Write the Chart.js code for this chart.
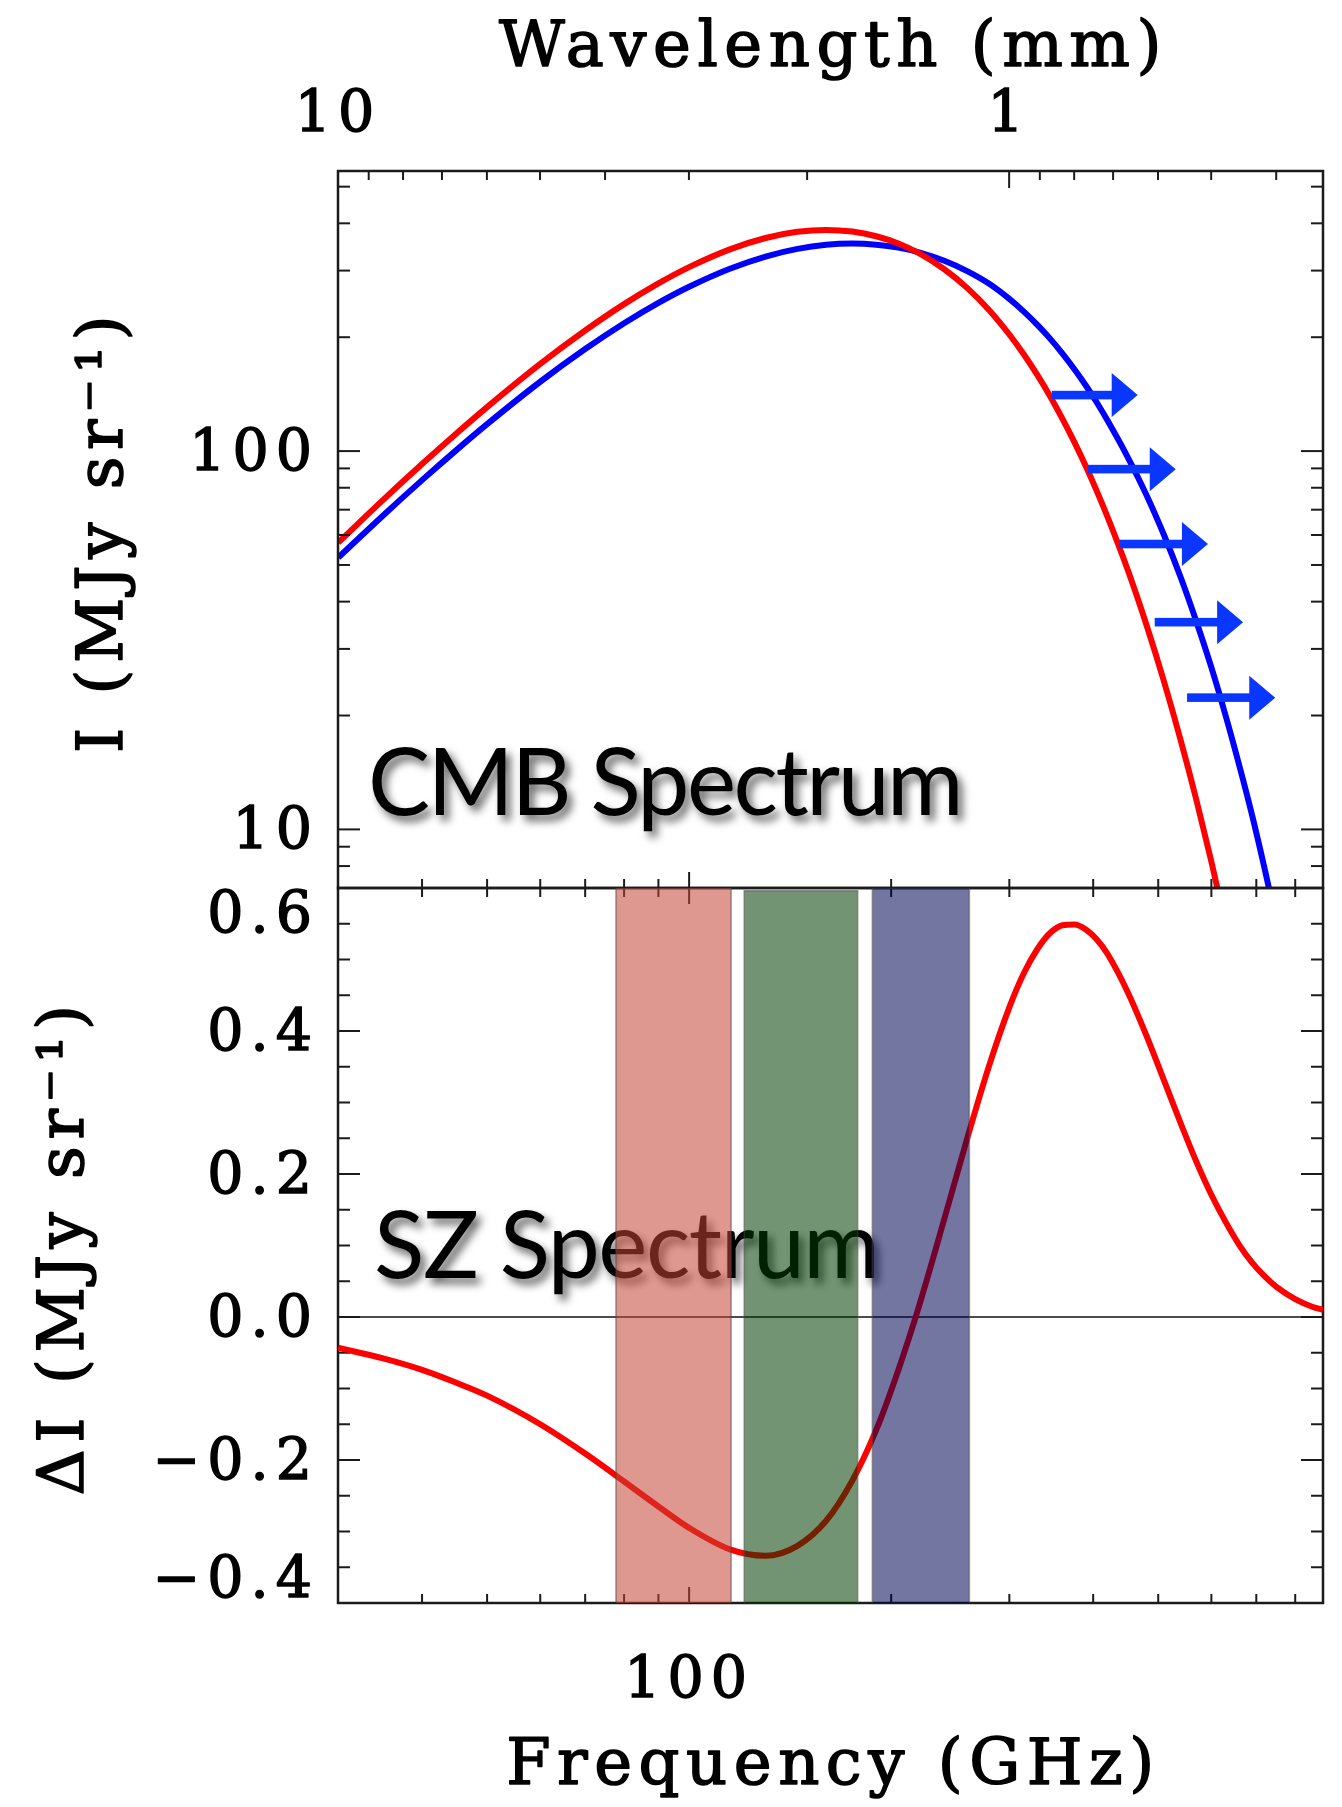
<!DOCTYPE html>
<html>
<head>
<meta charset="utf-8">
<style>
  html, body { margin: 0; padding: 0; background: #ffffff; }
  #wrap { position: relative; width: 1342px; height: 1807px; overflow: hidden; }
  #wrap canvas { position: absolute; left: 0; top: 0; }
</style>
<script src="https://cdn.jsdelivr.net/npm/chart.js@4.4.1/dist/chart.umd.min.js"></script>
</head>
<body>
<div id="wrap">
  <canvas id="cmbChart" width="1342" height="1807" style="width:1342px;height:1807px"></canvas>
  <canvas id="szChart" width="1342" height="1807" style="width:1342px;height:1807px"></canvas>
</div>
<script>
// ---------------- data ----------------
const freqGHz = [30, 35, 40, 45, 50, 60, 70, 80, 90, 100,
                 115, 130, 145, 160, 175, 190, 205, 220, 240, 260,
                 280, 300, 315, 330, 345, 360, 375, 390, 405, 420,
                 450, 480, 510, 540, 570, 600, 630, 660, 690, 720,
                 750, 800, 850, 880];
// red: CMB intensity (MJy/sr)
const cmbIntensity = [57.3, 74.3, 92.4, 111.3, 130.7, 170.0, 208.3, 244.6, 277.5, 306.4,
                      341.4, 365.8, 379.8, 384.3, 380.4, 369.7, 353.7, 333.5, 302.4, 269.2,
                      235.7, 203.3, 180.5, 159.2, 139.7, 121.7, 105.6, 91.2, 78.4, 67.1,
                      48.7, 34.8, 24.6, 17.2, 11.95, 8.22, 5.61, 3.80, 2.56, 1.72,
                      1.14, 0.58, 0.29, 0.19];
// blue: distorted (scattered) CMB intensity (MJy/sr)
const distortedIntensity = [52.3, 67.6, 83.8, 100.6, 117.8, 152.5, 186.1, 217.8, 246.6, 272.0,
                            303.5, 326.8, 342.4, 351.1, 353.7, 351.3, 345.0, 335.3, 318.4, 298.6,
                            276.8, 252.5, 234.1, 215.9, 198.3, 181.0, 164.6, 149.1, 134.4, 120.6,
                            96.6, 76.7, 60.0, 46.4, 35.4, 26.8, 20.0, 14.8, 10.9, 7.9,
                            5.7, 3.3, 1.8, 1.3];
// red: SZ spectrum Delta I (MJy/sr)
const szDeltaI = [-0.043, -0.058, -0.074, -0.092, -0.110, -0.150, -0.191, -0.230, -0.265, -0.295,
                  -0.325, -0.334, -0.320, -0.285, -0.229, -0.158, -0.074, 0.015, 0.137, 0.252,
                  0.352, 0.433, 0.480, 0.514, 0.537, 0.548, 0.549, 0.542, 0.528, 0.508,
                  0.455, 0.394, 0.331, 0.271, 0.217, 0.171, 0.133, 0.101, 0.076, 0.057,
                  0.042, 0.025, 0.014, 0.010];
// observing bands (GHz)
const bandLowGHz  = [77.8, 120.8, 187.5];
const bandHighGHz = [115.5, 178.3, 261.6];
const bandTop     = [0.6, 0.596, 0.6];
const bandColors  = ['rgba(195,67,53,0.55)', 'rgba(0,60,0,0.55)', 'rgba(0,5,82,0.55)'];
// arrows (start freq, end freq, intensity level)
const arrowStartGHz = [347, 393, 438, 494, 552];
const arrowEndGHz   = [466, 531, 593, 669, 747];
const arrowLevel    = [140.6, 89.6, 56.8, 35.3, 22.3];
// axes
const freqMin = 29.979, freqMax = 880;
const mmGHz = 299.792458;             // wavelength(mm) = mmGHz / freq(GHz)
const freqTicks = [40, 50, 60, 70, 80, 90, 100, 200, 300, 400, 500, 600, 700, 800];
const freqLabelTicks = [100];
const wavelengthTicks = [10, 9, 8, 7, 6, 5, 4, 3, 2, 1, 0.9, 0.8, 0.7, 0.6, 0.5, 0.4];
const wavelengthLabelTicks = [10, 1];
const intensityMin = 7, intensityMax = 550;
const intensityTicks = [8, 9, 10, 20, 30, 40, 50, 60, 70, 80, 90, 100, 200, 300, 400, 500];
const intensityLabelTicks = [10, 100];
const deltaIMin = -0.4, deltaIMax = 0.6;
const deltaITicks = [-0.4, -0.35, -0.3, -0.25, -0.2, -0.15, -0.1, -0.05, 0, 0.05, 0.1, 0.15,
                     0.2, 0.25, 0.3, 0.35, 0.4, 0.45, 0.5, 0.55, 0.6];
const deltaILabelTicks = [-0.4, -0.2, 0, 0.2, 0.4, 0.6];
const titles = {
  wavelength: 'Wavelength (mm)',
  frequency: 'Frequency (GHz)',
  intensity: 'I (MJy sr\u207B\u00B9)',
  deltaI: '\u0394I (MJy sr\u207B\u00B9)',
  cmb: 'CMB Spectrum',
  sz: 'SZ Spectrum'
};

// ---------------- helpers ----------------
const SERIF = "'DejaVu Serif', serif";
const TICK_FONT = { family: SERIF, size: 57 };
const TICK_SPACING = '7px';
const TITLE_CSS = "64px 'DejaVu Serif', serif";
const TITLE_SPACING = '6.5px';
const TEXT_STROKE = 1.5;
const AXIS_COLOR = '#1b1b1b';
const near = (list, v) => list.some(m => Math.abs(m - v) < 1e-9 * Math.max(1, Math.abs(m)));
const setTicks = list => axis => { axis.ticks = list.map(v => ({ value: v })); };
const fixSize = (w, h) => axis => {
  if (w !== null) axis.width = w;
  if (h !== null) axis.height = h;
  axis.paddingLeft = 0; axis.paddingRight = 0; axis.paddingTop = 0; axis.paddingBottom = 0;
};
const fmtDelta = v => (v < 0 ? '\u2212' : '') + Math.abs(v).toFixed(1);
// wavelength ticks expressed on the frequency scale
const wavelengthTicksAsFreq = wavelengthTicks.map(l => mmGHz / l);
const wavelengthLabelsAsFreq = wavelengthLabelTicks.map(l => mmGHz / l);

function tickMarks(ctx, scale, edge, dir, horizontal, majors, majLen, minLen, a) {
  scale.ticks.forEach(t => {
    const p = scale.getPixelForValue(t.value);
    const len = near(majors, t.value) ? majLen : minLen;
    ctx.beginPath();
    if (horizontal) {
      if (p < a.left - 1 || p > a.right + 1) return;
      ctx.moveTo(p, edge); ctx.lineTo(p, edge + dir * len);
    } else {
      if (p < a.top - 1 || p > a.bottom + 1) return;
      ctx.moveTo(edge, p); ctx.lineTo(edge + dir * len, p);
    }
    ctx.stroke();
  });
}
function serifText(ctx, text, x, y, rotate, font, spacing, align) {
  ctx.save();
  ctx.translate(x, y);
  if (rotate) ctx.rotate(-Math.PI / 2);
  ctx.font = font;
  ctx.letterSpacing = spacing;
  ctx.textAlign = align || 'center';
  ctx.textBaseline = 'middle';
  ctx.fillStyle = '#000';
  ctx.strokeStyle = '#000';
  ctx.lineWidth = TEXT_STROKE;
  ctx.lineJoin = 'round';
  ctx.strokeText(text, 0, 0);
  ctx.fillText(text, 0, 0);
  ctx.restore();
}
function shadowText(ctx, text, x, y, spacing) {
  ctx.save();
  ctx.letterSpacing = spacing;
  ctx.font = "400 93px Lato, 'Open Sans', sans-serif";
  ctx.textAlign = 'left';
  ctx.textBaseline = 'alphabetic';
  ctx.shadowColor = 'rgba(0,0,0,0.6)';
  ctx.shadowBlur = 8;
  ctx.shadowOffsetX = 5;
  ctx.shadowOffsetY = 6;
  ctx.fillStyle = '#000';
  ctx.fillText(text, x, y);
  ctx.restore();
}

const commonOpts = {
  responsive: false,
  animation: false,
  devicePixelRatio: 1,
  events: [],
  plugins: { legend: { display: false }, tooltip: { enabled: false }, title: { display: false } },
  elements: { point: { radius: 0 } }
};
const tickStyle = { font: TICK_FONT, color: '#000', textStrokeColor: '#000', textStrokeWidth: TEXT_STROKE,
                    autoSkip: false, maxRotation: 0, minRotation: 0 };

// ---------------- top chart: CMB spectrum ----------------
const cmbDecor = {
  id: 'cmbDecor',
  beforeDraw(chart) { chart.ctx.letterSpacing = TICK_SPACING; },
  afterDatasetsDraw(chart) {
    const { ctx, chartArea: a, scales } = chart;
    ctx.save();
    // arrows
    ctx.fillStyle = '#0a37ff';
    for (let i = 0; i < arrowLevel.length; i++) {
      const y = scales.y.getPixelForValue(arrowLevel[i]);
      const x0 = scales.x.getPixelForValue(arrowStartGHz[i]);
      const x1 = scales.x.getPixelForValue(arrowEndGHz[i]);
      const headLen = 26, headHalf = 22, shaft = 4.3;
      ctx.fillRect(x0, y - shaft, (x1 - headLen) - x0 + 1, 2 * shaft);
      ctx.beginPath();
      ctx.moveTo(x1, y);
      ctx.lineTo(x1 - headLen, y - headHalf);
      ctx.lineTo(x1 - headLen, y + headHalf);
      ctx.closePath();
      ctx.fill();
    }
    // frame and ticks
    ctx.strokeStyle = AXIS_COLOR;
    ctx.lineWidth = 2;
    tickMarks(ctx, scales.xw, a.top, 1, true, wavelengthLabelsAsFreq, 17, 9, a);
    tickMarks(ctx, scales.x, a.bottom, -1, true, freqLabelTicks, 16, 9, a);
    tickMarks(ctx, scales.y, a.left, 1, false, intensityLabelTicks, 22, 12, a);
    tickMarks(ctx, scales.y, a.right, -1, false, intensityLabelTicks, 22, 12, a);
    ctx.lineWidth = 2.5;
    ctx.strokeRect(a.left, a.top, a.right - a.left, a.bottom - a.top);
    ctx.restore();
    // axis titles and panel label
    serifText(ctx, titles.wavelength, (a.left + a.right) / 2 + 3, 49, false, TITLE_CSS, TITLE_SPACING);
    serifText(ctx, titles.intensity, 105, 531, true, TITLE_CSS, TITLE_SPACING);
    shadowText(ctx, titles.cmb, a.left + 30, a.top + 644, '-2.5px');
  }
};

new Chart(document.getElementById('cmbChart'), {
  type: 'line',
  data: {
    datasets: [
      { label: 'CMB', xAxisID: 'x', yAxisID: 'y',
        data: freqGHz.map((f, i) => ({ x: f, y: cmbIntensity[i] })),
        borderColor: '#ff0000', borderWidth: 6, pointRadius: 0, fill: false,
        cubicInterpolationMode: 'monotone' },
      { label: 'Distorted CMB', xAxisID: 'x', yAxisID: 'y',
        data: freqGHz.map((f, i) => ({ x: f, y: distortedIntensity[i] })),
        borderColor: '#0000ff', borderWidth: 6, pointRadius: 0, fill: false,
        cubicInterpolationMode: 'monotone' }
    ]
  },
  options: Object.assign({}, commonOpts, {
    layout: { padding: { left: 0, top: 0, right: 19, bottom: 0 } },
    scales: {
      x: { type: 'logarithmic', position: 'bottom', min: freqMin, max: freqMax,
           ticks: { display: false }, grid: { display: false, drawTicks: false },
           border: { display: false },
           afterBuildTicks: setTicks(freqTicks), afterFit: fixSize(null, 919) },
      xw: { type: 'logarithmic', position: 'top', min: freqMin, max: freqMax,
            ticks: Object.assign({}, tickStyle, { display: true, padding: 21,
                     callback: v => {
                       const lam = Math.round(mmGHz / v * 10) / 10;
                       return near(wavelengthLabelTicks, lam) ? String(lam) : '';
                     } }),
            grid: { display: false, drawTicks: false }, border: { display: false },
            title: { display: false },
            afterBuildTicks: setTicks(wavelengthTicksAsFreq), afterFit: fixSize(null, 171) },
      y: { type: 'logarithmic', position: 'left', min: intensityMin, max: intensityMax,
           ticks: Object.assign({}, tickStyle, { display: true, padding: 19, labelOffset: 4,
                    callback: v => near(intensityLabelTicks, v) ? String(v) : '' }),
           grid: { display: false, drawTicks: false }, border: { display: false },
           title: { display: false },
           afterBuildTicks: setTicks(intensityTicks), afterFit: fixSize(338, null) }
    }
  }),
  plugins: [cmbDecor]
});

// ---------------- bottom chart: SZ spectrum ----------------
const szDecor = {
  id: 'szDecor',
  beforeDraw(chart) { chart.ctx.letterSpacing = TICK_SPACING; },
  beforeDatasetsDraw(chart) {
    const { ctx, chartArea: a, scales } = chart;
    ctx.save();
    shadowText(ctx, titles.sz, a.left + 36, a.top + 390, '-1.5px');
    // zero line
    const y0 = scales.y.getPixelForValue(0);
    ctx.strokeStyle = '#111';
    ctx.lineWidth = 1.5;
    ctx.beginPath(); ctx.moveTo(a.left, y0); ctx.lineTo(a.right, y0); ctx.stroke();
    // frame and ticks
    ctx.strokeStyle = AXIS_COLOR;
    ctx.lineWidth = 2;
    tickMarks(ctx, scales.x, a.top, 1, true, freqLabelTicks, 16, 9, a);
    tickMarks(ctx, scales.x, a.bottom, -1, true, freqLabelTicks, 16, 9, a);
    tickMarks(ctx, scales.y, a.left, 1, false, deltaILabelTicks, 22, 12, a);
    tickMarks(ctx, scales.y, a.right, -1, false, deltaILabelTicks, 22, 12, a);
    ctx.lineWidth = 2.5;
    ctx.strokeRect(a.left, a.top, a.right - a.left, a.bottom - a.top);
    ctx.restore();
    // edge labels (pulled inside the panel, as in the figure)
    const tickCss = TICK_FONT.size + 'px ' + SERIF;
    serifText(ctx, fmtDelta(deltaIMax), a.left - 19, scales.y.getPixelForValue(deltaIMax) + 29, false, tickCss, TICK_SPACING, 'right');
    serifText(ctx, fmtDelta(deltaIMin), a.left - 19, scales.y.getPixelForValue(deltaIMin) - 21, false, tickCss, TICK_SPACING, 'right');
    // axis titles
    serifText(ctx, titles.frequency, (a.left + a.right) / 2 + 3, 1767, false, TITLE_CSS, TITLE_SPACING);
    serifText(ctx, titles.deltaI, 66, 1247, true, TITLE_CSS, TITLE_SPACING);
  }
};

const bandDatasets = bandLowGHz.map((lo, i) => ({
  label: 'band ' + (i + 1), xAxisID: 'x', yAxisID: 'y',
  data: [{ x: lo, y: deltaIMin }, { x: lo, y: bandTop[i] }, { x: bandHighGHz[i], y: bandTop[i] }, { x: bandHighGHz[i], y: deltaIMin }],
  borderColor: 'rgba(70,70,70,0.55)', borderWidth: 1.5, backgroundColor: bandColors[i],
  fill: 'start', tension: 0, pointRadius: 0, order: 0
}));

new Chart(document.getElementById('szChart'), {
  type: 'line',
  data: {
    datasets: [
      { label: 'SZ', xAxisID: 'x', yAxisID: 'y',
        data: freqGHz.map((f, i) => ({ x: f, y: szDeltaI[i] })),
        borderColor: '#ff0000', borderWidth: 6, pointRadius: 0, fill: false,
        cubicInterpolationMode: 'monotone', order: 1 }
    ].concat(bandDatasets)
  },
  options: Object.assign({}, commonOpts, {
    layout: { padding: { left: 0, top: 888, right: 19, bottom: 0 } },
    scales: {
      x: { type: 'logarithmic', position: 'bottom', min: freqMin, max: freqMax,
           ticks: Object.assign({}, tickStyle, { display: true, padding: 45,
                    callback: v => near(freqLabelTicks, v) ? String(v) : '' }),
           grid: { display: false, drawTicks: false }, border: { display: false },
           title: { display: false },
           afterBuildTicks: setTicks(freqTicks), afterFit: fixSize(null, 204) },
      y: { type: 'linear', position: 'left', min: deltaIMin, max: deltaIMax,
           ticks: Object.assign({}, tickStyle, { display: true, padding: 19, labelOffset: 4,
                    callback: v => (near(deltaILabelTicks, v) && v !== deltaIMin && v !== deltaIMax) ? fmtDelta(v) : '' }),
           grid: { display: false, drawTicks: false }, border: { display: false },
           title: { display: false },
           afterBuildTicks: setTicks(deltaITicks), afterFit: fixSize(338, null) }
    }
  }),
  plugins: [szDecor]
});
</script>
</body>
</html>
